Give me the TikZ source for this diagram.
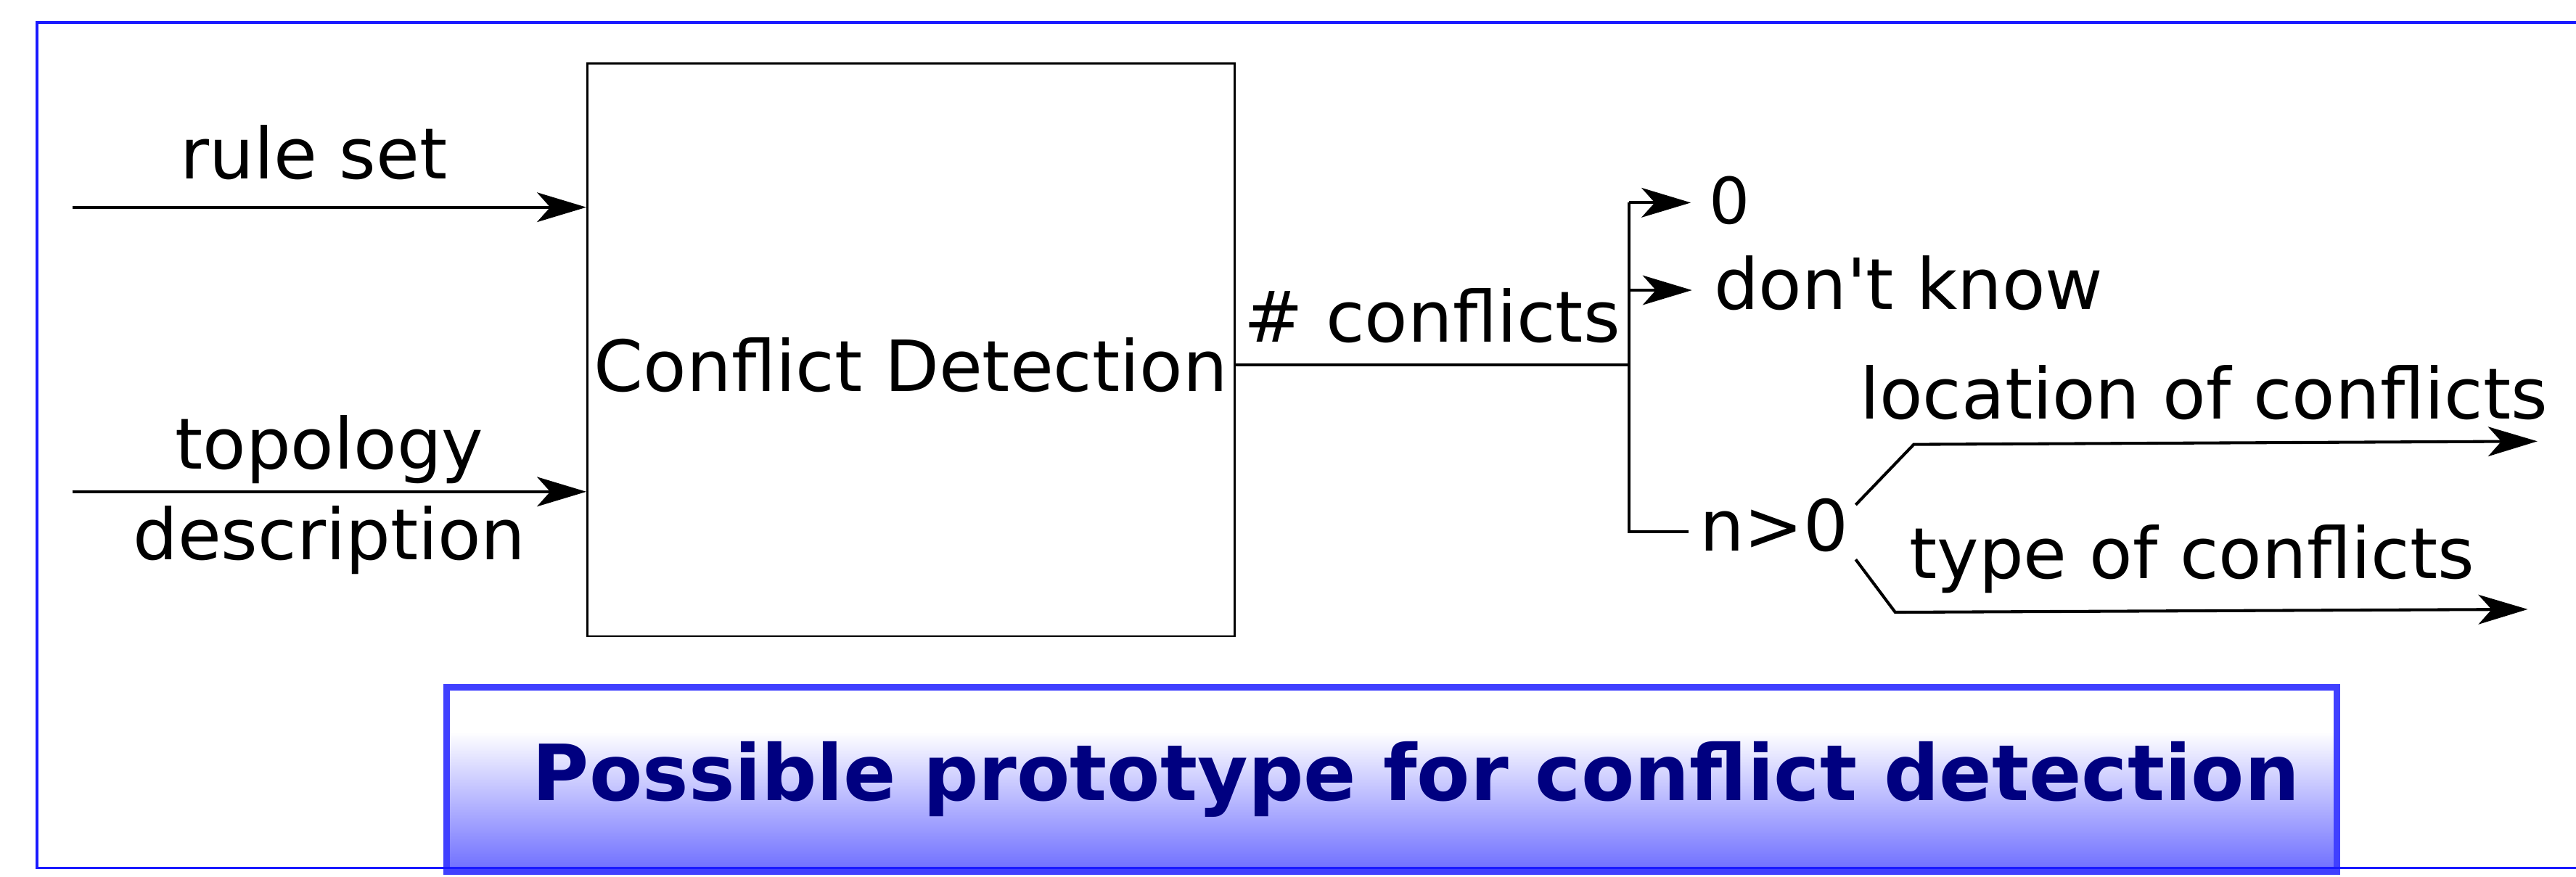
\documentclass[tikz,border=0pt]{standalone}
\usepackage{fontspec}
\setmainfont{DejaVu Sans}
\usetikzlibrary{arrows.meta,positioning}
\definecolor{framecol}{RGB}{26,26,255}
\definecolor{titleedge}{RGB}{64,64,255}
\definecolor{fadeblue}{RGB}{110,110,255}
\definecolor{titleink}{RGB}{0,0,128}
\pgfdeclareverticalshading{titlefade}{100bp}{color(0bp)=(fadeblue); color(25bp)=(fadeblue); color(63bp)=(white); color(100bp)=(white)}
\tikzset{
    %Define standard arrow tip
    >={Stealth[length=15pt,width=9pt,inset=4pt]},
    %Define style for labels
    lbl/.style={
           font=\fontsize{21.5}{26}\selectfont,
           inner sep=2pt},
    %Define style for the detection block
    procbox/.style={
           rectangle,
           draw=black, line width=0.6pt,
           minimum width=197pt,
           minimum height=174.4pt,
           inner sep=0pt},
    %Define style for the caption box
    titlebox/.style={
           rectangle,
           draw=titleedge, line width=2pt,
           shade, shading=titlefade,
           minimum width=575.2pt,
           minimum height=55.9pt,
           inner sep=0pt,
           text=titleink,
           font=\fontsize{23.6}{28}\selectfont\bfseries},
    % Define line styles
    wire/.style={line width=0.9pt},
    flow/.style={wire, ->},
    frameline/.style={draw=framecol, line width=0.85pt}
}

\begin{document}
\begin{tikzpicture}[x=0.5pt,y=-0.5pt]
\useasboundingbox (0,0) rectangle (1568,534);
 %nodes
\node[procbox] (detect) at (554.5,212.9) {};
\coordinate (split) at (991.5,222.3);
\node[lbl] (cdtext) at (detect.center |- split) {Conflict Detection};
\coordinate (ruleIn) at (44,126.2);
\coordinate (topoIn) at (44,299.4);
\coordinate (zeroTip) at (1029.2,123.4);
\coordinate (dkTip) at (1029.9,176.7);
\coordinate (nEnd) at (1027.7,323.8);
\node[lbl, font=\fontsize{19.5}{24}\selectfont, right=3.3pt of zeroTip, yshift=0.6pt] (zero) {0};
\node[lbl, right=4.5pt of dkTip, yshift=2.2pt] (dontknow) {don\textquotesingle t know};
\node[lbl, right=1.2pt of nEnd, yshift=1.9pt] (nmore) {n>0};
\coordinate (locBend) at (1164.9,270.6);
\coordinate (locTip) at (1544.5,268.7);
\coordinate (typeBend) at (1153.6,372.8);
\coordinate (typeTip) at (1538.6,371);
\node[titlebox] (title) at (847.2,474.6) {\hspace*{14.8pt}Possible prototype for conflict detection};
 %connectors
\draw[flow] (ruleIn) -- node[lbl, above=5.8pt, pos=0.47] (ruleset) {rule set} (ruleIn -| detect.west);
\draw[flow] (topoIn) -- node[lbl, above=0pt] (topo) {topology}
   node[lbl, below=1.8pt] (descr) {description} (topoIn -| detect.west);
\draw[wire] (split -| detect.east) -- node[lbl, above=4.25pt] (ncount) {\# conflicts} (split);
\draw[wire] (split |- zeroTip) |- (nEnd);
\draw[flow] (split |- zeroTip) -- (zeroTip);
\draw[flow] (split |- dkTip) -- (dkTip);
\draw[flow] ([yshift=6.3pt]nmore.east) -- (locBend)
   -- node[lbl, above=4.5pt, pos=0.465] (loclbl) {location of conflicts} (locTip);
\draw[flow] (nmore.south east) -- (typeBend)
   -- node[lbl, above=2.9pt, pos=0.469] (typelbl) {type of conflicts} (typeTip);
 %frame
\draw[frameline] (1568,13.85) -| (22.5,528.5) -- (1568,528.5);
\end{tikzpicture}
\end{document}
